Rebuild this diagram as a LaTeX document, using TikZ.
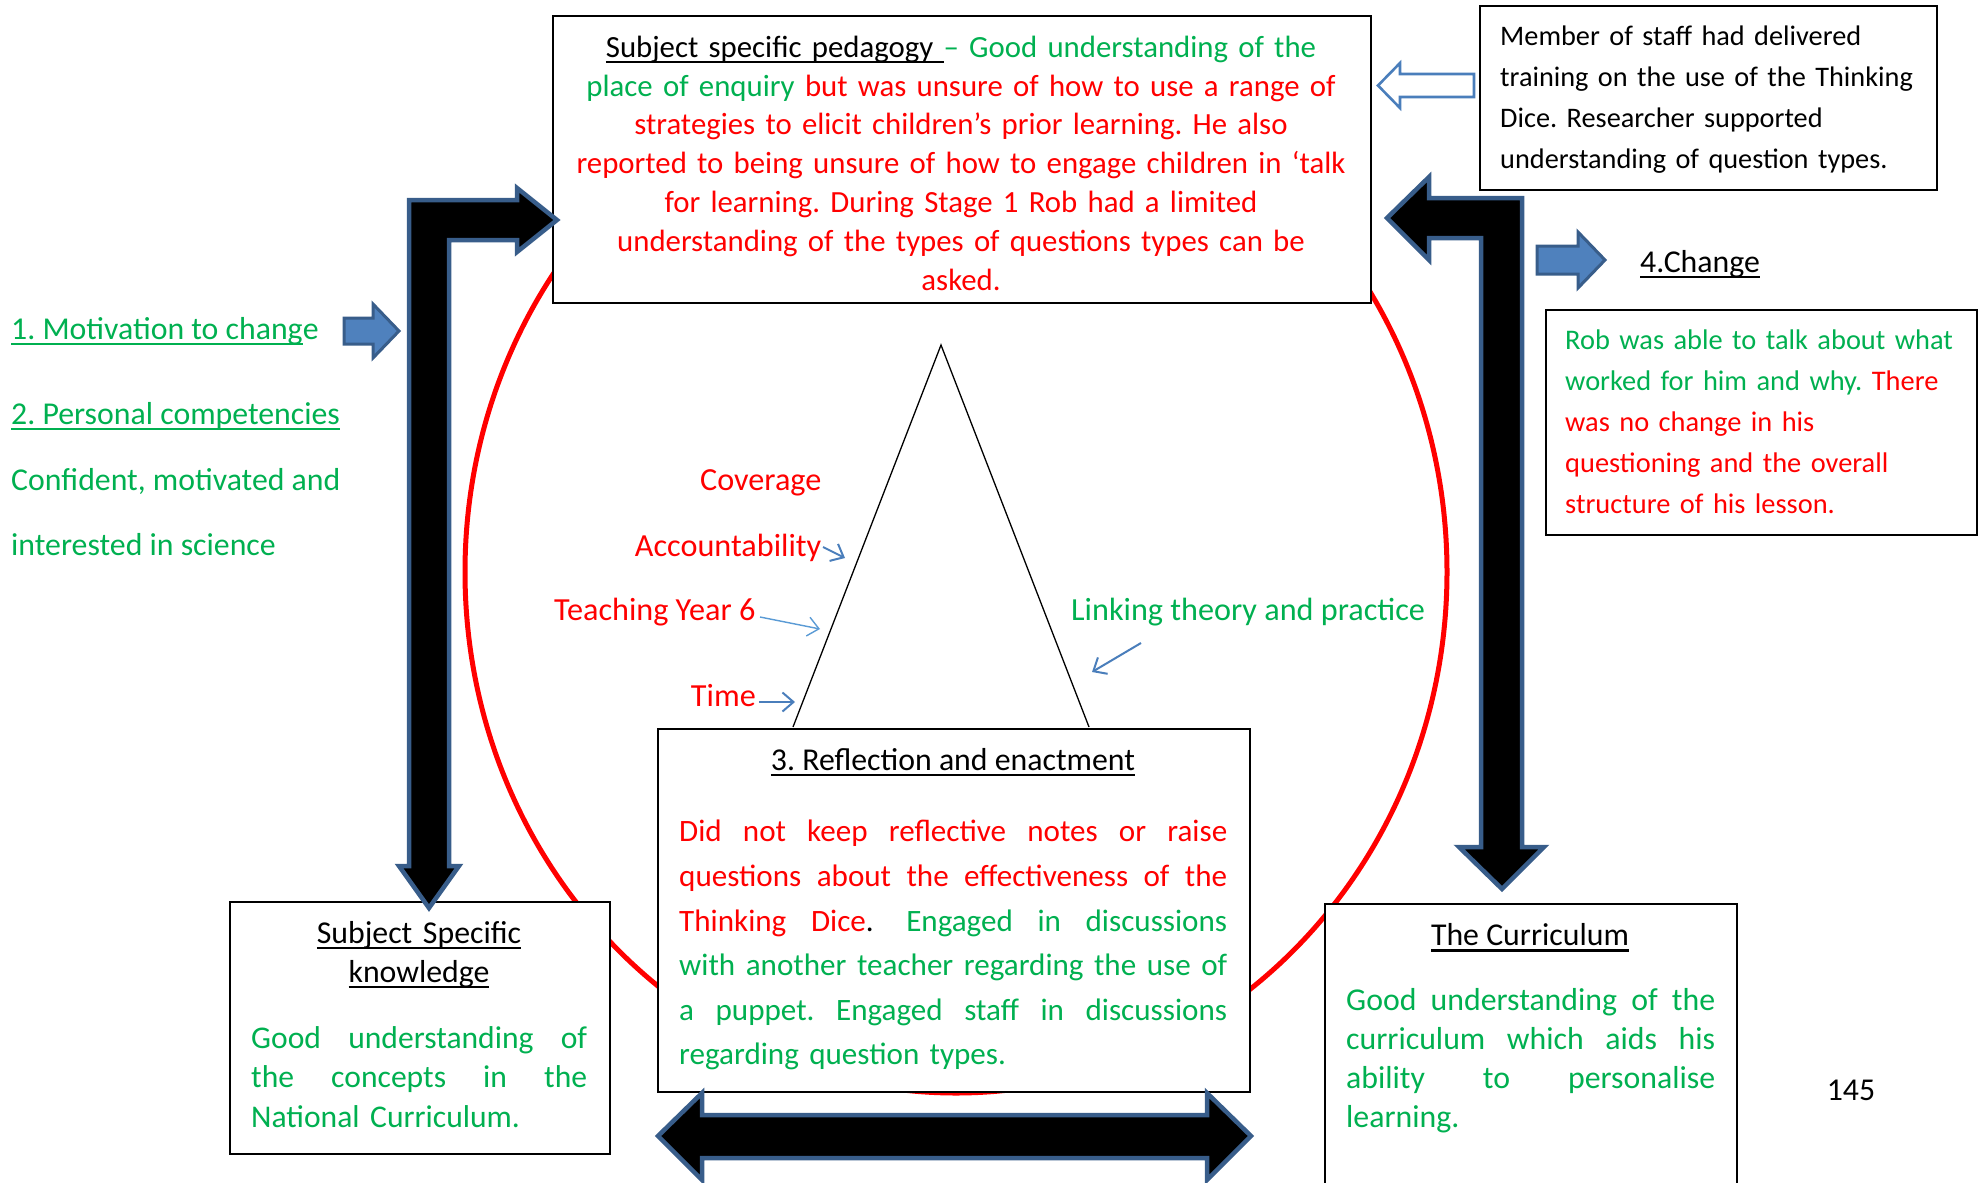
\documentclass[tikz,border=0pt]{standalone}
\usepackage{fontspec}
\setmainfont{Carlito}
\usetikzlibrary{arrows.meta}
\frenchspacing
\definecolor{wgreen}{HTML}{00B050}
\definecolor{wred}{HTML}{FF0000}
\definecolor{bfill}{HTML}{4F81BD}
\definecolor{bline}{HTML}{385D8A}
\definecolor{lblue}{HTML}{4A7EBB}
\definecolor{llblue}{HTML}{5B9BD5}
\newsavebox\ulbx
\newcommand\uln[1]{\sbox\ulbx{#1}\rlap{\rule[-6pt]{\wd\ulbx}{2.4pt}}\usebox\ulbx}
\newcommand\jl[2]{\leavevmode\hbox to #1{\spaceskip=0.226em plus 1fil minus 0.06em\relax\strut #2}}
\tikzset{
 box/.style={draw=black, line width=1.8pt, fill=white, inner sep=0pt},
 txt/.style={inner sep=0pt, font=\fontsize{31.8}{38.8}\selectfont},
 tlab/.style={inner sep=0pt, font=\fontsize{32.2}{38.8}\selectfont},
 blockarrow/.style={fill=bfill, draw=bline, line width=3pt, line join=miter},
 hollowarrow/.style={fill=white, draw=lblue, line width=2.6pt, line join=miter},
 bentarrow/.style={fill=black, draw=bline, line width=4.5pt, line join=miter},
 thinarrow/.style={draw=lblue, line width=2pt, -{Straight Barb[length=11pt,width=19pt]}},
}
\begin{document}
\begin{tikzpicture}[x=1pt,y=-1pt]
\useasboundingbox (0,0) rectangle (1982,1183);
\clip (0,0) rectangle (1982,1183);
% red cycle
\draw[wred, line width=5pt] (956,572) ellipse [x radius=491pt, y radius=521pt];
% triangle
\draw[line width=1.3pt, line join=miter] (793,727) -- (941,345) -- (1089,727);
% boxes
\node[box, anchor=north west, minimum width=818pt, minimum height=287pt] (pedag) at (552,15) {};
\node[box, anchor=north west, minimum width=457pt, minimum height=184pt] (staff) at (1479,5) {};
\node[box, anchor=north west, minimum width=431pt, minimum height=225pt] (chg) at (1545,309) {};
\node[box, anchor=north west, minimum width=592pt, minimum height=363pt] (refl) at (657,728) {};
\node[box, anchor=north west, minimum width=380pt, minimum height=252pt] (ssk) at (229,901) {};
\node[box, anchor=north west, minimum width=412pt, minimum height=320pt] (curr) at (1324,903) {};
% top box text
\node[txt, font=\fontsize{30.8}{38.8}\selectfont, text=wred, align=center, text width=818pt] (pedagT) at (961,166) {%
\strut\textcolor{black}{\uln{Subject specific pedagogy\ }}\textcolor{wgreen}{– Good understanding of the}\\
\strut\textcolor{wgreen}{place of enquiry} but was unsure of how to use a range of\\
\strut strategies to elicit children’s prior learning. He also\\
\strut reported to being unsure of how to engage children in ‘talk\\
\strut for learning. During Stage 1 Rob had a limited\\
\strut understanding of the types of questions types can be\\
\strut asked.};
% staff box text
\node[txt, font=\fontsize{28.3}{41}\selectfont, align=left, text width=430pt, anchor=west] (staffT) at (1500,99) {%
\strut Member of staff had delivered\\
\strut training on the use of the Thinking\\
\strut Dice. Researcher supported\\
\strut understanding of question types.};
% change
\node[txt, anchor=west] (chgL) at (1640,264.5) {\strut\uln{4.Change}};
\node[txt, font=\fontsize{28.4}{41}\selectfont, text=wred, align=left, text width=408pt, anchor=west] (chgT) at (1565,423.5) {%
\strut\textcolor{wgreen}{Rob was able to talk about what}\\
\strut\textcolor{wgreen}{worked for him and why.} There\\
\strut was no change in his\\
\strut questioning and the overall\\
\strut structure of his lesson.};
% left texts
\node[txt, text=wgreen, anchor=west] (mot) at (11,331.5) {\strut\uln{1. Motivation to chang}e};
\node[txt, text=wgreen, anchor=west] (pers) at (11,416.5) {\strut\uln{2. Personal competencies}};
\node[txt, text=wgreen, anchor=west] (conf) at (11,482.5) {\strut Confident, motivated and};
\node[txt, text=wgreen, anchor=west] (intr) at (11,547.5) {\strut interested in science};
% triangle labels
\node[tlab, text=wred, anchor=east] (cov) at (821.5,482.5) {\strut Coverage};
\node[tlab, text=wred, anchor=east] (acc) at (821.5,548.5) {\strut Accountability};
\node[tlab, text=wred, anchor=west] (ty6) at (554,612.5) {\strut Teaching Year 6};
\node[tlab, text=wred, anchor=east] (time) at (756,698.5) {\strut Time};
\node[tlab, text=wgreen, anchor=west] (link) at (1071,612.5) {\strut Linking theory and practice};
\coordinate (accE) at (845,558);
\coordinate (ty6E) at (820,629);
\coordinate (timeE) at (795,702);
\coordinate (linkS) at (1141,643);
\coordinate (linkE) at (1092,672);
\draw[thinarrow] (823,547) -- (accE);
\draw[thinarrow, draw=llblue, line width=1.4pt] (760,617) -- (ty6E);
\draw[thinarrow] (759,702) -- (timeE);
\draw[thinarrow] (linkS) -- (linkE);
% reflection box
\node[txt, anchor=center] (reflH) at (953,762.5) {\strut\uln{3. Reflection and enactment}};
\node[txt, font=\fontsize{31.1}{44.6}\selectfont, text=wgreen, align=left, text width=548pt, anchor=west] (reflT) at (679,944.5) {%
\jl{548pt}{\textcolor{wred}{Did not keep reflective notes or raise}}\\
\jl{548pt}{\textcolor{wred}{questions about the effectiveness of the}}\\
\jl{548pt}{\textcolor{wred}{Thinking Dice}\textcolor{black}{.} \hspace{0.25em}Engaged in discussions}\\
\jl{548pt}{with another teacher regarding the use of}\\
\jl{548pt}{a puppet. Engaged staff in discussions}\\
\strut regarding question types.};
% subject specific knowledge
\node[txt, align=center, text width=370pt, font=\fontsize{31.8}{39}\selectfont] (sskH) at (419,955) {%
\strut\uln{Subject Specific}\\
\strut\uln{knowledge}};
\node[txt, font=\fontsize{31.6}{39.5}\selectfont, text=wgreen, align=left, text width=336pt, anchor=west] (sskT) at (251,1080) {%
\jl{336pt}{Good understanding of}\\
\jl{336pt}{the concepts in the}\\
\strut National Curriculum.};
% curriculum
\node[txt] (currH) at (1530,938) {\strut\uln{The Curriculum}};
\node[txt, font=\fontsize{31.8}{39}\selectfont, text=wgreen, align=left, text width=369pt, anchor=west] (currT) at (1346,1061) {%
\jl{369pt}{Good understanding of the}\\
\jl{369pt}{curriculum which aids his}\\
\jl{369pt}{ability to personalise}\\
\strut learning.};
\node[txt] (pnum) at (1851,1093) {\strut 145};
% block arrows
\draw[hollowarrow] (1474,74) -- (1400,74) -- (1400,63) -- (1378,85.5) -- (1400,108) -- (1400,97) -- (1474,97) -- cycle;
\draw[blockarrow] (344,318) -- (373,318) -- (373,304) -- (399,331) -- (373,358) -- (373,344) -- (344,344) -- cycle;
\draw[blockarrow] (1537,246) -- (1578,246) -- (1578,232) -- (1605,260) -- (1578,288) -- (1578,274) -- (1537,274) -- cycle;
\draw[bentarrow] (409,866) -- (409,200) -- (517,200) -- (517,188) -- (557,220) -- (517,252) -- (517,240) -- (449,240) -- (449,866) -- (459,866) -- (429,908) -- (399,866) -- cycle;
\draw[bentarrow] (1522,847) -- (1522,198) -- (1429,198) -- (1429,177) -- (1387,218) -- (1429,260) -- (1429,238) -- (1481,238) -- (1481,847) -- (1459,847) -- (1502,889) -- (1544,847) -- cycle;
\draw[bentarrow] (702,1115) -- (1207,1115) -- (1207,1093) -- (1251,1136) -- (1207,1180) -- (1207,1158) -- (702,1158) -- (702,1180) -- (658,1136) -- (702,1093) -- cycle;
\end{tikzpicture}
\end{document}
